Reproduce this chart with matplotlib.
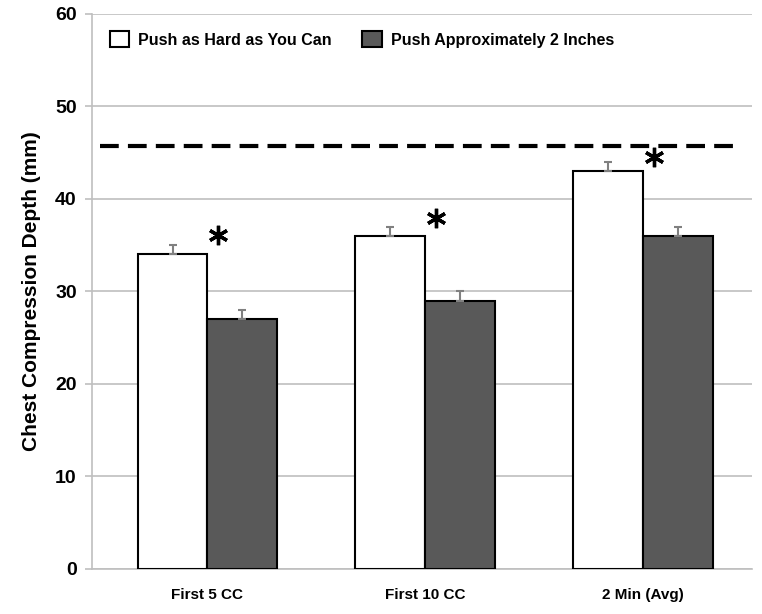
import matplotlib
matplotlib.use("Agg")
import matplotlib.pyplot as plt
import numpy as np

categories = ["First 5 CC", "First 10 CC", "2 Min (Avg)"]
hard = [34, 36, 43]
hard_err = [1, 1, 1]
approx = [27, 29, 36]
approx_err = [1, 1, 1]
sig_y = [36.1, 37.9, 44.5]
target_depth = 45.7
series_names = ["Push as Hard as You Can", "Push Approximately 2 Inches"]

plt.rcParams['font.family'] = ['Liberation Sans', 'DejaVu Sans']

fig = plt.figure(figsize=(7.62, 6.14), dpi=100)
ax = fig.add_axes([0.1207, 0.0733, 0.866, 0.904])

x = np.arange(len(categories))
w = 0.32
ekw = dict(ecolor="#808080", capsize=3, elinewidth=1.5, capthick=1.5)
ax.bar(x - w / 2, hard, w, color="white", edgecolor="black", linewidth=1.5,
       yerr=[[0] * len(hard), hard_err], error_kw=ekw,
       label=series_names[0], zorder=3)
ax.bar(x + w / 2, approx, w, color="#595959", edgecolor="black", linewidth=1.5,
       yerr=[[0] * len(approx), approx_err], error_kw=ekw,
       label=series_names[1], zorder=3)

# significance marks
ax.plot(x + 0.05, sig_y, linestyle="none", marker=(6, 2, 0), markersize=14,
        markeredgewidth=2.4, color="black", zorder=4)

ax.axhline(target_depth, xmin=0.012, xmax=0.975, color="black", linestyle=(0, (4.5, 2.2)),
           linewidth=3, zorder=4)

ax.set_xlim(-0.53, 2.5)
ax.set_ylim(0, 60)
ax.set_yticks(range(0, 61, 10))
ax.yaxis.grid(True, color="#bfbfbf", linewidth=1.2, zorder=0)
ax.set_axisbelow(True)
for s in ["top", "right"]:
    ax.spines[s].set_visible(False)
ax.spines["left"].set_color("#bfbfbf")
ax.spines["bottom"].set_color("#bfbfbf")
ax.spines["left"].set_linewidth(1.2)
ax.spines["bottom"].set_linewidth(1.2)
ax.tick_params(axis="x", length=0, pad=14)
ax.tick_params(axis="y", length=5, width=1.2, color="#bfbfbf", pad=6)

ax.set_xticks(x)
ax.set_xticklabels(categories, fontsize=11, fontweight="bold")
for lbl in ax.get_yticklabels():
    lbl.set_fontsize(14)
    lbl.set_fontweight("bold")
ax.set_ylabel("Chest Compression Depth (mm)", fontsize=15, fontweight="bold", labelpad=10)

ax.legend(loc="upper left", bbox_to_anchor=(0.005, 0.995), ncol=2, frameon=False,
          prop=dict(size=11.5, weight="bold"), handlelength=1.2, handleheight=1.2,
          columnspacing=1.9, handletextpad=0.6)

fig.savefig("out.png", dpi=100)
